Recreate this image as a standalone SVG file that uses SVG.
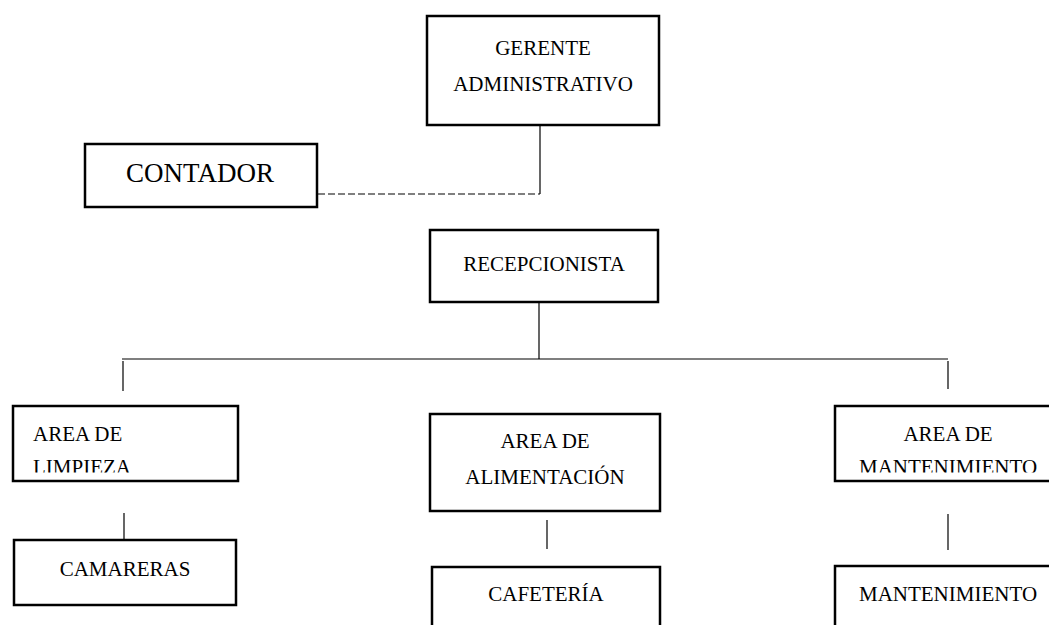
<svg xmlns="http://www.w3.org/2000/svg" width="1049" height="625" viewBox="0 0 1049 625">
<style>
.box{fill:#fff;stroke:#000;stroke-width:2.5}
.t{font-family:"Liberation Serif","Times New Roman",serif;font-size:21px;fill:#000}
.c{text-anchor:middle}
.ln{stroke:#000;stroke-width:1.2;fill:none}
</style>
<defs>
<clipPath id="clipL"><rect x="0" y="400" width="260" height="72.5"/></clipPath>
<clipPath id="clipM"><rect x="830" y="400" width="219" height="72.5"/></clipPath>
</defs>
<g id="connectors">
<line class="ln" x1="540" y1="126" x2="540" y2="194"/>
<line class="ln" x1="318" y1="194" x2="540" y2="194" stroke-dasharray="7,3" stroke-width="1.6"/>
<line class="ln" x1="539" y1="303" x2="539" y2="359"/>
<line class="ln" x1="122" y1="359" x2="948" y2="359"/>
<line class="ln" x1="123" y1="361" x2="123" y2="391"/>
<line class="ln" x1="948" y1="361" x2="948" y2="389"/>
<line class="ln" x1="124" y1="513" x2="124" y2="539"/>
<line class="ln" x1="547" y1="520" x2="547" y2="549"/>
<line class="ln" x1="948" y1="514" x2="948" y2="550"/>
</g>
<g id="gerente">
<rect class="box" x="427" y="16" width="232" height="109"/>
<text class="t c" x="543" y="55">GERENTE</text>
<text class="t c" x="543" y="91">ADMINISTRATIVO</text>
</g>
<g id="contador">
<rect class="box" x="85" y="144" width="232" height="63"/>
<text class="t c" x="200" y="182" style="font-size:27px">CONTADOR</text>
</g>
<g id="recepcionista">
<rect class="box" x="430" y="230" width="228" height="72"/>
<text class="t c" x="544" y="271">RECEPCIONISTA</text>
</g>
<g id="area-limpieza">
<rect class="box" x="13" y="406" width="225" height="75"/>
<text class="t" x="33" y="441">AREA DE</text>
<text class="t" x="33" y="474" clip-path="url(#clipL)">LIMPIEZA</text>
</g>
<g id="camareras">
<rect class="box" x="14" y="540" width="222" height="65"/>
<text class="t c" x="125" y="576">CAMARERAS</text>
</g>
<g id="area-alimentacion">
<rect class="box" x="430" y="414" width="230" height="97"/>
<text class="t c" x="545" y="448">AREA DE</text>
<text class="t c" x="545" y="484">ALIMENTACIÓN</text>
</g>
<g id="cafeteria">
<rect class="box" x="432" y="567" width="228" height="80"/>
<text class="t c" x="546" y="601">CAFETERÍA</text>
</g>
<g id="area-mantenimiento">
<rect class="box" x="835" y="406" width="230" height="75"/>
<text class="t c" x="948" y="441">AREA DE</text>
<text class="t c" x="948" y="474" clip-path="url(#clipM)">MANTENIMIENTO</text>
</g>
<g id="mantenimiento">
<rect class="box" x="835" y="566" width="230" height="80"/>
<text class="t c" x="948" y="601">MANTENIMIENTO</text>
</g>
</svg>
